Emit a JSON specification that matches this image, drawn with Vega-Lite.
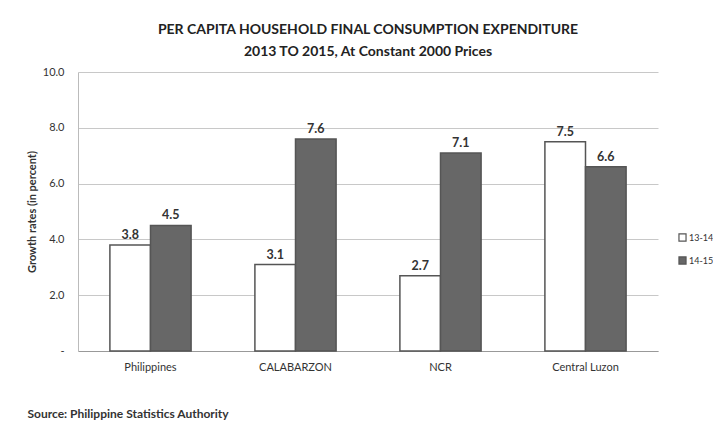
{
  "$schema": "https://vega.github.io/schema/vega-lite/v6.json",
  "autosize": {"type": "none"},
  "width": 580,
  "height": 279,
  "padding": {"left": 78, "top": 72, "right": 55, "bottom": 84},
  "background": "white",
  "title": {
    "text": ["PER CAPITA HOUSEHOLD FINAL CONSUMPTION EXPENDITURE", "2013 TO 2015, At Constant 2000 Prices"],
    "font": "Lato",
    "fontSize": 14,
    "fontWeight": "bold",
    "color": "#222",
    "lineHeight": 22,
    "anchor": "middle",
    "offset": 7
  },
  "data": {
    "values": [
      {"region": "Philippines", "period": "13-14", "rate": 3.8},
      {"region": "Philippines", "period": "14-15", "rate": 4.5},
      {"region": "CALABARZON", "period": "13-14", "rate": 3.1},
      {"region": "CALABARZON", "period": "14-15", "rate": 7.6},
      {"region": "NCR", "period": "13-14", "rate": 2.7},
      {"region": "NCR", "period": "14-15", "rate": 7.1},
      {"region": "Central Luzon", "period": "13-14", "rate": 7.5},
      {"region": "Central Luzon", "period": "14-15", "rate": 6.6}
    ]
  },
  "encoding": {
    "x": {
      "field": "region", "type": "nominal", "sort": null,
      "scale": {"paddingInner": 0.44, "paddingOuter": 0.22},
      "axis": {
        "labelAngle": 0, "labelFont": "Lato", "labelFontSize": 11, "labelColor": "#333",
        "labelPadding": 10, "ticks": false, "domainColor": "#999", "domainWidth": 1.2,
        "title": "Source: Philippine Statistics Authority",
        "titleFont": "Lato", "titleFontSize": 12, "titleFontWeight": "bold", "titleColor": "#333",
        "titleAnchor": "start", "titleAlign": "left", "titleBaseline": "middle", "titleX": -51, "titleY": 62
      }
    },
    "xOffset": {"field": "period", "type": "nominal"},
    "y": {
      "field": "rate", "type": "quantitative",
      "scale": {"domain": [0, 10]},
      "axis": {
        "values": [0, 2, 4, 6, 8, 10],
        "labelExpr": "datum.value == 0 ? '-' : format(datum.value, '.1f')",
        "labelFont": "Lato", "labelFontSize": 11, "labelColor": "#333",
        "labelPadding": 14, "ticks": false, "domainColor": "#bbb",
        "gridColor": "#c8c8c8", "gridWidth": 1,
        "title": "Growth rates (in percent)",
        "titleFont": "Lato", "titleFontSize": 11, "titleFontWeight": "bold", "titleColor": "#333",
        "titlePadding": 5
      }
    }
  },
  "layer": [
    {
      "mark": {"type": "bar", "stroke": "#555", "strokeWidth": 1.5},
      "encoding": {
        "fill": {
          "field": "period", "type": "nominal",
          "scale": {"domain": ["13-14", "14-15"], "range": ["#ffffff", "#676767"]},
          "legend": {
            "title": null, "orient": "none", "legendX": 600, "legendY": 161,
            "symbolType": "square", "symbolSize": 50, "symbolStrokeColor": "#555", "symbolStrokeWidth": 1.2,
            "labelFont": "Lato", "labelFontSize": 9, "labelColor": "#333",
            "rowPadding": 10, "labelOffset": 2
          }
        }
      }
    },
    {
      "mark": {"type": "text", "dy": -10, "font": "Lato", "fontSize": 12.5, "fontWeight": "bold", "color": "#333"},
      "encoding": {
        "text": {"field": "rate", "type": "quantitative", "format": ".1f"}
      }
    }
  ],
  "config": {"view": {"stroke": null}}
}
